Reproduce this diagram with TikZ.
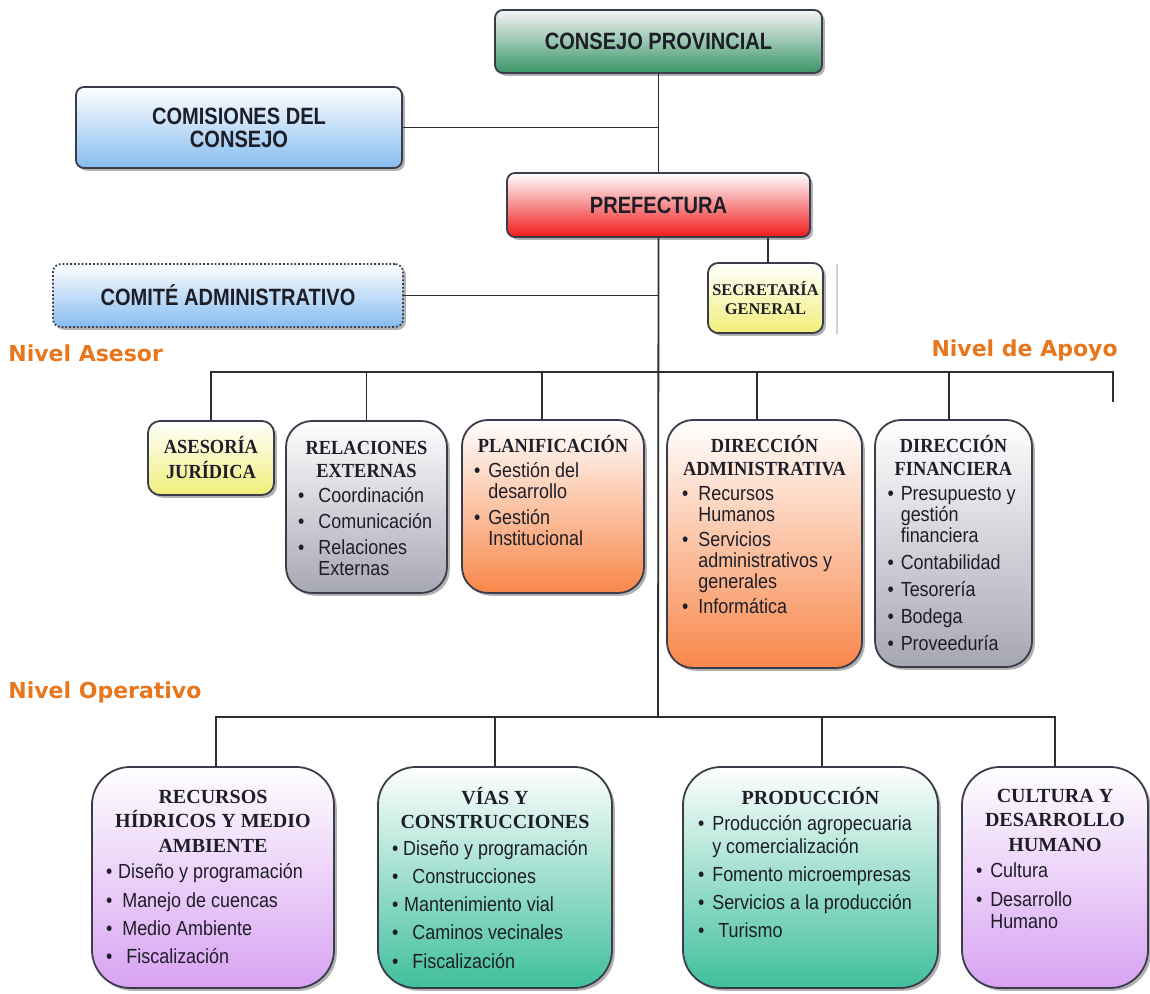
\documentclass[tikz,border=0pt]{standalone}
\usepackage{fontspec}
\setmainfont{Liberation Sans}
\newfontfamily\hsans[FakeStretch=0.85]{Liberation Sans}
\newfontfamily\hserif[FakeStretch=0.92]{Liberation Serif}
\newfontfamily\hserifw{Liberation Serif}
\newfontfamily\bodyf[FakeStretch=0.88]{Liberation Sans}
\newfontfamily\lvlf{DejaVu Sans}
\usetikzlibrary{shadows,calc}

\definecolor{ink}{HTML}{1E1E28}
\definecolor{edge}{HTML}{3A3C4A}
\definecolor{wire}{HTML}{2E2E2E}
\definecolor{lvl}{HTML}{E8761C}
\definecolor{cgreen}{HTML}{3A9568}
\definecolor{cblue}{HTML}{86BCF0}
\definecolor{cred}{HTML}{F01A1A}
\definecolor{cyellow}{HTML}{F0EE78}
\definecolor{cgray}{HTML}{A6A7B4}
\definecolor{corange}{HTML}{F8874A}
\definecolor{clav}{HTML}{D8A2F2}
\definecolor{cteal}{HTML}{3FBF9B}

% one centred header line
\newcommand{\hl}[1]{\hbox to\linewidth{\hss#1\hss}}
% headers of the unit boxes
\newcommand{\hdrU}[1]{{\hserif\bfseries\fontsize{10}{11.5}\selectfont #1}\vskip2pt}
\newcommand{\hdrL}[1]{{\hserifw\bfseries\fontsize{10}{12.3}\selectfont #1}\vskip2pt}
% text column of a unit box: width, gap between entries, contents
\newcommand{\ucol}[3]{\begin{minipage}[t]{#1}\setlength{\parskip}{#2}\raggedright #3\par\end{minipage}}
% bulleted entry with hanging indent
\newcommand{\orgitem}[2][0.75em]{\par\hangindent=#1\hangafter=1\noindent\hbox to #1{\textbullet\hss}#2}

\begin{document}
\begin{tikzpicture}[x=0.5pt,y=-0.5pt,
  card/.style={draw=edge, line width=0.9pt, inner sep=0pt,
    drop shadow={shadow xshift=1.4pt,shadow yshift=-1.4pt,opacity=0.3,fill=black}},
  headbox/.style={card, rounded corners=4pt, align=center, text=ink,
    font=\hsans\bfseries\fontsize{11.8}{11.5}\selectfont},
  smallbox/.style={card, align=center, text=ink},
  midbox/.style={card, rounded corners=13pt},
  lowbox/.style={card, rounded corners=19pt},
  link/.style={draw=wire, line width=0.9pt},
  level/.style={text=lvl, font=\lvlf\bfseries\fontsize{11}{13}\selectfont, inner sep=0pt},
  body/.style={inner sep=0pt, anchor=base, text=ink, font=\bodyf\fontsize{10.2}{10.5}\selectfont},
  lowbody/.style={body, font=\bodyf\fontsize{10.2}{11.3}\selectfont},
]
\useasboundingbox (0,0) rectangle (1150,994);

% ---- governing bodies
\node[headbox, top color=white!92!gray, bottom color=cgreen,
  minimum width=163.5pt, minimum height=31.5pt] (consejo) at (658.5,41.5) {CONSEJO PROVINCIAL};
\node[headbox, top color=white, bottom color=cblue,
  minimum width=163pt, minimum height=40.5pt] (comisiones) at (239,127.5) {COMISIONES DEL\\CONSEJO};
\node[headbox, top color=white, bottom color=cred,
  minimum width=151.5pt, minimum height=32pt] (prefectura) at (658.5,205) {PREFECTURA};
\node[headbox, draw=edge, densely dotted, top color=white, bottom color=cblue,
  minimum width=175pt, minimum height=31.5pt] (comite) at (228,295.5) {COMITÉ ADMINISTRATIVO};
\node[smallbox, rounded corners=5pt, top color=white, bottom color=cyellow,
  minimum width=57.5pt, minimum height=35pt,
  font=\hserifw\bfseries\fontsize{8.2}{9.5}\selectfont] (secretaria) at (765.5,298) {SECRETARÍA\\GENERAL};
\draw[gray!35, line width=0.6pt] ([xshift=6.5pt,yshift=-1pt]secretaria.north east) -- ([xshift=6.5pt]secretaria.south east);

% ---- level captions
\node[level, anchor=base west] (lvAsesor) at (8,362) {Nivel Asesor};
\node[level, anchor=base east] (lvApoyo) at (1118,357) {Nivel de Apoyo};
\node[level, anchor=base west] (lvOper) at (8,698) {Nivel Operativo};

% ---- advisory and support units
\node[smallbox, rounded corners=6pt, top color=white, bottom color=cyellow,
  minimum width=63pt, minimum height=37pt,
  font=\hserif\bfseries\fontsize{10}{12.5}\selectfont] (asesoria) at (211,458) {ASESORÍA\\JURÍDICA};
\node[midbox, top color=white, bottom color=cgray, minimum width=80.5pt, minimum height=86pt] (relaciones) at (366.5,507) {};
\node[midbox, top color=white, bottom color=corange, minimum width=91pt, minimum height=86.5pt] (planificacion) at (553,506.5) {};
\node[midbox, top color=white, bottom color=corange, minimum width=97.5pt, minimum height=124pt] (diradm) at (764.5,544) {};
\node[midbox, top color=white, bottom color=cgray, minimum width=78.5pt, minimum height=123.5pt] (dirfin) at (953.5,543.5) {};

\node[body] (relT) at ($(relaciones.north)+(0,34)$) {\ucol{68.5pt}{2.5pt}{%
  \hdrU{\hl{RELACIONES}\hl{EXTERNAS}}%
  \orgitem[1em]{Coordinación}\orgitem[1em]{Comunicación}\orgitem[1em]{Relaciones\newline Externas}}};
\node[body] (planT) at ($(planificacion.north)+(0,33)$) {\ucol{79pt}{2.5pt}{%
  \hdrU{\hl{PLANIFICACIÓN}}%
  \orgitem[0.7em]{Gestión del\newline desarrollo}\orgitem[0.7em]{Gestión\newline Institucional}}};
\node[body] (admT) at ($(diradm.north)+(0,33)$) {\ucol{82.5pt}{2pt}{%
  \hdrU{\hl{DIRECCIÓN}\hl{ADMINISTRATIVA}}%
  \orgitem[0.8em]{Recursos\newline Humanos}\orgitem[0.8em]{Servicios\newline administrativos y\newline generales}\orgitem[0.8em]{Informática}}};
\node[body] (finT) at ($(dirfin.north)+(0,33)$) {\ucol{66pt}{3pt}{%
  \hdrU{\hl{DIRECCIÓN}\hl{FINANCIERA}}%
  \orgitem[0.65em]{\mbox{Presupuesto y}\newline gestión\newline financiera}\orgitem[0.65em]{Contabilidad}\orgitem[0.65em]{Tesorería}\orgitem[0.65em]{Bodega}\orgitem[0.65em]{Proveeduría}}};

% ---- operative units
\node[lowbox, top color=white, bottom color=clav, minimum width=121pt, minimum height=110.5pt] (recursos) at (213,877.5) {};
\node[lowbox, top color=white, bottom color=cteal, minimum width=117pt, minimum height=110.5pt] (vias) at (495,877.5) {};
\node[lowbox, top color=white, bottom color=cteal, minimum width=127.5pt, minimum height=110.5pt] (produccion) at (810.5,877.5) {};
\node[lowbox, top color=white, bottom color=clav, minimum width=93pt, minimum height=110.5pt] (cultura) at (1055,877.5) {};

\node[lowbody] (recT) at ($(recursos.north)+(0,37)$) {\ucol{107pt}{2.8pt}{%
  \hdrL{\hl{RECURSOS}\hl{HÍDRICOS Y MEDIO}\hl{AMBIENTE}}%
  \orgitem[0.6em]{Diseño y programación}\orgitem[0.8em]{Manejo de cuencas}\orgitem[0.8em]{Medio Ambiente}\orgitem[1em]{Fiscalización}}};
\node[lowbody] (viaT) at ($(vias.north)+(0,38)$) {\ucol{103pt}{2.8pt}{%
  \hdrL{\hl{VÍAS Y}\hl{CONSTRUCCIONES}}%
  \orgitem[0.55em]{Diseño y programación}\orgitem[1em]{Construcciones}\orgitem[0.6em]{Mantenimiento vial}\orgitem[1em]{Caminos vecinales}\orgitem[1em]{Fiscalización}}};
\node[lowbody] (proT) at ($(produccion.north)+(0,38)$) {\ucol{112.5pt}{2.8pt}{%
  \hdrL{\hl{PRODUCCIÓN}}%
  \orgitem[0.7em]{Producción agropecuaria\newline y comercialización}\orgitem[0.7em]{Fomento microempresas}\orgitem[0.7em]{Servicios a la producción}\orgitem[1em]{Turismo}}};
\node[lowbody] (culT) at ($(cultura.north)+(0,36)$) {\ucol{79pt}{2.8pt}{%
  \hdrL{\hl{CULTURA Y}\hl{DESARROLLO}\hl{HUMANO}}%
  \orgitem[0.7em]{Cultura}\orgitem[0.7em]{Desarrollo\newline Humano}}};

% ---- connectors
\coordinate (upbar) at (658,372);
\coordinate (upend) at (1113,372);
\coordinate (uptail) at (1113,402);
\coordinate (opbar) at (658,717);

\draw[link] (consejo.south) -- (prefectura.north);
\draw[link] (prefectura.south) -- (opbar);
\draw[link] (comisiones.east) -- (comisiones.east -| consejo.south);
\draw[link] (comite.east) -- (comite.east -| prefectura.south);
\draw[link] ([xshift=1.25pt]secretaria.north) -- ([xshift=1.25pt]secretaria.north |- prefectura.south);

\draw[link] (asesoria.north) |- (upend) -- (uptail);
\draw[link] (relaciones.north) -- (relaciones.north |- upbar);
\draw[link] ([xshift=-5.5pt]planificacion.north) -- ([xshift=-5.5pt]planificacion.north |- upbar);
\draw[link] ([xshift=-3.75pt]diradm.north) -- ([xshift=-3.75pt]diradm.north |- upbar);
\draw[link] ([xshift=-2.25pt]dirfin.north) -- ([xshift=-2.25pt]dirfin.north |- upbar);

\draw[link] ([xshift=1.5pt]recursos.north) |- (opbar) -| (cultura.north);
\draw[link] (vias.north) -- (vias.north |- opbar);
\draw[link] ([xshift=5.75pt]produccion.north) -- ([xshift=5.75pt]produccion.north |- opbar);
\end{tikzpicture}
\end{document}
